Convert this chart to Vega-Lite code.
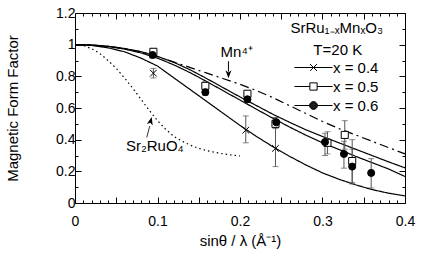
{
  "$schema": "https://vega.github.io/schema/vega-lite/v6.json",
  "autosize": {"type": "none"},
  "width": 330,
  "height": 190,
  "padding": {"left": 75, "top": 13, "right": 29, "bottom": 51},
  "background": "white",
  "config": {
    "view": {"stroke": null},
    "font": "Liberation Sans",
    "axis": {"grid": false, "domainColor": "black", "tickColor": "black", "labelColor": "black", "titleColor": "black", "labelFont": "Liberation Sans", "titleFont": "Liberation Sans", "titleFontWeight": "normal", "labelFontSize": 14, "titleFontSize": 15, "labelOverlap": false, "labelFlush": false}
  },
  "datasets": {
    "curves": [
      {"series": "fit 0.4", "s": 0, "f": 1}, {"series": "fit 0.4", "s": 0.02, "f": 0.995}, {"series": "fit 0.4", "s": 0.04, "f": 0.98}, {"series": "fit 0.4", "s": 0.06, "f": 0.955}, {"series": "fit 0.4", "s": 0.08, "f": 0.915}, {"series": "fit 0.4", "s": 0.10, "f": 0.865}, {"series": "fit 0.4", "s": 0.12, "f": 0.79}, {"series": "fit 0.4", "s": 0.14, "f": 0.715}, {"series": "fit 0.4", "s": 0.16, "f": 0.64}, {"series": "fit 0.4", "s": 0.18, "f": 0.565}, {"series": "fit 0.4", "s": 0.20, "f": 0.49}, {"series": "fit 0.4", "s": 0.22, "f": 0.42}, {"series": "fit 0.4", "s": 0.24, "f": 0.355}, {"series": "fit 0.4", "s": 0.26, "f": 0.295}, {"series": "fit 0.4", "s": 0.28, "f": 0.24}, {"series": "fit 0.4", "s": 0.30, "f": 0.19}, {"series": "fit 0.4", "s": 0.32, "f": 0.15}, {"series": "fit 0.4", "s": 0.34, "f": 0.115}, {"series": "fit 0.4", "s": 0.36, "f": 0.085}, {"series": "fit 0.4", "s": 0.38, "f": 0.062}, {"series": "fit 0.4", "s": 0.40, "f": 0.045},
      {"series": "fit 0.5", "s": 0, "f": 1}, {"series": "fit 0.5", "s": 0.02, "f": 0.998}, {"series": "fit 0.5", "s": 0.04, "f": 0.99}, {"series": "fit 0.5", "s": 0.06, "f": 0.976}, {"series": "fit 0.5", "s": 0.08, "f": 0.956}, {"series": "fit 0.5", "s": 0.10, "f": 0.926}, {"series": "fit 0.5", "s": 0.12, "f": 0.888}, {"series": "fit 0.5", "s": 0.14, "f": 0.84}, {"series": "fit 0.5", "s": 0.16, "f": 0.785}, {"series": "fit 0.5", "s": 0.18, "f": 0.727}, {"series": "fit 0.5", "s": 0.20, "f": 0.67}, {"series": "fit 0.5", "s": 0.22, "f": 0.615}, {"series": "fit 0.5", "s": 0.24, "f": 0.56}, {"series": "fit 0.5", "s": 0.26, "f": 0.51}, {"series": "fit 0.5", "s": 0.28, "f": 0.462}, {"series": "fit 0.5", "s": 0.30, "f": 0.42}, {"series": "fit 0.5", "s": 0.32, "f": 0.38}, {"series": "fit 0.5", "s": 0.34, "f": 0.34}, {"series": "fit 0.5", "s": 0.36, "f": 0.3}, {"series": "fit 0.5", "s": 0.38, "f": 0.26}, {"series": "fit 0.5", "s": 0.40, "f": 0.222},
      {"series": "fit 0.6", "s": 0, "f": 1}, {"series": "fit 0.6", "s": 0.02, "f": 0.997}, {"series": "fit 0.6", "s": 0.04, "f": 0.988}, {"series": "fit 0.6", "s": 0.06, "f": 0.972}, {"series": "fit 0.6", "s": 0.08, "f": 0.948}, {"series": "fit 0.6", "s": 0.10, "f": 0.915}, {"series": "fit 0.6", "s": 0.12, "f": 0.872}, {"series": "fit 0.6", "s": 0.14, "f": 0.822}, {"series": "fit 0.6", "s": 0.16, "f": 0.766}, {"series": "fit 0.6", "s": 0.18, "f": 0.708}, {"series": "fit 0.6", "s": 0.20, "f": 0.65}, {"series": "fit 0.6", "s": 0.22, "f": 0.592}, {"series": "fit 0.6", "s": 0.24, "f": 0.535}, {"series": "fit 0.6", "s": 0.26, "f": 0.48}, {"series": "fit 0.6", "s": 0.28, "f": 0.428}, {"series": "fit 0.6", "s": 0.30, "f": 0.38}, {"series": "fit 0.6", "s": 0.32, "f": 0.338}, {"series": "fit 0.6", "s": 0.34, "f": 0.295}, {"series": "fit 0.6", "s": 0.36, "f": 0.255}, {"series": "fit 0.6", "s": 0.38, "f": 0.215}, {"series": "fit 0.6", "s": 0.40, "f": 0.167},
      {"series": "Mn4+", "s": 0, "f": 1}, {"series": "Mn4+", "s": 0.02, "f": 0.998}, {"series": "Mn4+", "s": 0.04, "f": 0.99}, {"series": "Mn4+", "s": 0.06, "f": 0.975}, {"series": "Mn4+", "s": 0.08, "f": 0.955}, {"series": "Mn4+", "s": 0.10, "f": 0.925}, {"series": "Mn4+", "s": 0.12, "f": 0.89}, {"series": "Mn4+", "s": 0.14, "f": 0.855}, {"series": "Mn4+", "s": 0.16, "f": 0.82}, {"series": "Mn4+", "s": 0.18, "f": 0.785}, {"series": "Mn4+", "s": 0.20, "f": 0.75}, {"series": "Mn4+", "s": 0.22, "f": 0.71}, {"series": "Mn4+", "s": 0.24, "f": 0.665}, {"series": "Mn4+", "s": 0.26, "f": 0.615}, {"series": "Mn4+", "s": 0.28, "f": 0.565}, {"series": "Mn4+", "s": 0.30, "f": 0.515}, {"series": "Mn4+", "s": 0.32, "f": 0.47}, {"series": "Mn4+", "s": 0.34, "f": 0.43}, {"series": "Mn4+", "s": 0.36, "f": 0.39}, {"series": "Mn4+", "s": 0.38, "f": 0.35}, {"series": "Mn4+", "s": 0.40, "f": 0.31},
      {"series": "Sr2RuO4", "s": 0, "f": 1}, {"series": "Sr2RuO4", "s": 0.01, "f": 0.995}, {"series": "Sr2RuO4", "s": 0.02, "f": 0.975}, {"series": "Sr2RuO4", "s": 0.03, "f": 0.945}, {"series": "Sr2RuO4", "s": 0.04, "f": 0.9}, {"series": "Sr2RuO4", "s": 0.05, "f": 0.85}, {"series": "Sr2RuO4", "s": 0.06, "f": 0.79}, {"series": "Sr2RuO4", "s": 0.07, "f": 0.725}, {"series": "Sr2RuO4", "s": 0.08, "f": 0.655}, {"series": "Sr2RuO4", "s": 0.09, "f": 0.585}, {"series": "Sr2RuO4", "s": 0.10, "f": 0.52}, {"series": "Sr2RuO4", "s": 0.11, "f": 0.465}, {"series": "Sr2RuO4", "s": 0.12, "f": 0.42}, {"series": "Sr2RuO4", "s": 0.13, "f": 0.39}, {"series": "Sr2RuO4", "s": 0.14, "f": 0.365}, {"series": "Sr2RuO4", "s": 0.15, "f": 0.345}, {"series": "Sr2RuO4", "s": 0.16, "f": 0.33}, {"series": "Sr2RuO4", "s": 0.17, "f": 0.32}, {"series": "Sr2RuO4", "s": 0.18, "f": 0.31}, {"series": "Sr2RuO4", "s": 0.19, "f": 0.303}, {"series": "Sr2RuO4", "s": 0.20, "f": 0.297}
    ],
    "points": [
      {"series": "x = 0.4", "s": 0.095, "f": 0.82, "lo": 0.79, "hi": 0.85},
      {"series": "x = 0.4", "s": 0.207, "f": 0.46, "lo": 0.38, "hi": 0.55},
      {"series": "x = 0.4", "s": 0.243, "f": 0.345, "lo": 0.23, "hi": 0.54},
      {"series": "x = 0.5", "s": 0.095, "f": 0.955, "lo": 0.935, "hi": 0.975},
      {"series": "x = 0.5", "s": 0.158, "f": 0.74, "lo": 0.715, "hi": 0.765},
      {"series": "x = 0.5", "s": 0.209, "f": 0.69, "lo": 0.67, "hi": 0.71},
      {"series": "x = 0.5", "s": 0.243, "f": 0.5, "lo": 0.47, "hi": 0.53},
      {"series": "x = 0.5", "s": 0.306, "f": 0.38, "lo": 0.31, "hi": 0.45},
      {"series": "x = 0.5", "s": 0.327, "f": 0.43, "lo": 0.34, "hi": 0.52},
      {"series": "x = 0.5", "s": 0.336, "f": 0.265, "lo": 0.13, "hi": 0.4},
      {"series": "x = 0.6", "s": 0.094, "f": 0.935, "lo": 0.915, "hi": 0.955},
      {"series": "x = 0.6", "s": 0.158, "f": 0.7, "lo": 0.68, "hi": 0.72},
      {"series": "x = 0.6", "s": 0.209, "f": 0.655, "lo": 0.635, "hi": 0.675},
      {"series": "x = 0.6", "s": 0.244, "f": 0.51, "lo": 0.48, "hi": 0.54},
      {"series": "x = 0.6", "s": 0.303, "f": 0.385, "lo": 0.3, "hi": 0.44},
      {"series": "x = 0.6", "s": 0.326, "f": 0.31, "lo": 0.22, "hi": 0.39},
      {"series": "x = 0.6", "s": 0.336, "f": 0.23, "lo": 0.12, "hi": 0.34},
      {"series": "x = 0.6", "s": 0.359, "f": 0.19, "lo": 0.095, "hi": 0.28}
    ],
    "labels": [
      {"label": "Mn⁴⁺", "s": 0.196, "f": 0.922},
      {"label": "Sr₂RuO₄", "s": 0.0967, "f": 0.33},
      {"label": "SrRu₁₋ₓMnₓO₃", "s": 0.3173, "f": 1.074},
      {"label": "T=20 K", "s": 0.3185, "f": 0.935}
    ],
    "arrowMn": [{"s": 0.186, "f": 0.895, "s2": 0.186, "f2": 0.83, "hs": 0.186, "hf": 0.82}],
    "arrowSr": [{"s": 0.087, "f": 0.414, "s2": 0.0906, "f2": 0.486, "hs": 0.0915, "hf": 0.512}]
  },
  "layer": [
    {
      "data": {"name": "curves"},
      "mark": {"type": "line", "color": "black", "strokeWidth": 1.2},
      "encoding": {
        "x": {"field": "s", "type": "quantitative", "scale": {"domain": [0, 0.4], "nice": false, "zero": false},
          "axis": {"orient": "bottom", "title": "sinθ / λ (Å⁻¹)", "titlePadding": 2,
            "values": [0,0.01,0.02,0.03,0.04,0.05,0.06,0.07,0.08,0.09,0.1,0.11,0.12,0.13,0.14,0.15,0.16,0.17,0.18,0.19,0.2,0.21,0.22,0.23,0.24,0.25,0.26,0.27,0.28,0.29,0.3,0.31,0.32,0.33,0.34,0.35,0.36,0.37,0.38,0.39,0.4],
            "labelExpr": "abs(datum.value*10 - round(datum.value*10)) < 0.000001 ? format(datum.value, '~g') : ''",
            "tickSize": {"condition": {"test": "abs(datum.value*20 - round(datum.value*20)) < 0.000001", "value": -6}, "value": -3},
            "labelPadding": 17}},
        "y": {"field": "f", "type": "quantitative", "scale": {"domain": [0, 1.2], "nice": false, "zero": false},
          "axis": {"orient": "left", "title": "Magnetic Form Factor", "titlePadding": 35,
            "values": [0,0.1,0.2,0.3,0.4,0.5,0.6,0.7,0.8,0.9,1,1.1,1.2],
            "labelExpr": "abs(datum.value*5 - round(datum.value*5)) < 0.000001 ? format(datum.value, '~g') : ''",
            "tickSize": {"condition": {"test": "abs(datum.value*5 - round(datum.value*5)) < 0.000001", "value": -6}, "value": -3},
            "labelPadding": 6}},
        "strokeDash": {"field": "series", "type": "nominal", "legend": null,
          "scale": {"domain": ["fit 0.4", "fit 0.5", "fit 0.6", "Mn4+", "Sr2RuO4"], "range": [[1, 0], [1, 0], [1, 0], [9, 4, 2, 4], [1.5, 3]]}}
      }
    },
    {
      "data": {"name": "points"},
      "mark": {"type": "rule", "color": "#555", "strokeWidth": 1},
      "encoding": {
        "x": {"field": "s", "type": "quantitative", "axis": null},
        "y": {"field": "lo", "type": "quantitative", "axis": null},
        "y2": {"field": "hi"}
      }
    },
    {
      "data": {"name": "points"},
      "mark": {"type": "tick", "orient": "horizontal", "color": "#555", "size": 6, "thickness": 1},
      "encoding": {
        "x": {"field": "s", "type": "quantitative", "axis": null},
        "y": {"field": "lo", "type": "quantitative", "axis": null}
      }
    },
    {
      "data": {"name": "points"},
      "mark": {"type": "tick", "orient": "horizontal", "color": "#555", "size": 6, "thickness": 1},
      "encoding": {
        "x": {"field": "s", "type": "quantitative", "axis": null},
        "y": {"field": "hi", "type": "quantitative", "axis": null}
      }
    },
    {
      "data": {"name": "points"},
      "transform": [{"filter": "datum.series == 'x = 0.4'"}],
      "mark": {"type": "point", "shape": "M-1,-1L1,1M-1,1L1,-1", "filled": false, "stroke": "black", "strokeWidth": 1, "size": 45, "opacity": 1},
      "encoding": {
        "x": {"field": "s", "type": "quantitative", "axis": null},
        "y": {"field": "f", "type": "quantitative", "axis": null}
      }
    },
    {
      "data": {"name": "points"},
      "transform": [{"filter": "datum.series == 'x = 0.5'"}],
      "mark": {"type": "point", "shape": "square", "filled": true, "fill": "white", "stroke": "black", "strokeWidth": 1, "size": 50, "opacity": 1},
      "encoding": {
        "x": {"field": "s", "type": "quantitative", "axis": null},
        "y": {"field": "f", "type": "quantitative", "axis": null}
      }
    },
    {
      "data": {"name": "points"},
      "transform": [{"filter": "datum.series == 'x = 0.6'"}],
      "mark": {"type": "point", "shape": "circle", "filled": true, "fill": "black", "stroke": "black", "strokeWidth": 1, "size": 50, "opacity": 1},
      "encoding": {
        "x": {"field": "s", "type": "quantitative", "axis": null},
        "y": {"field": "f", "type": "quantitative", "axis": null}
      }
    },
    {
      "data": {"name": "labels"},
      "mark": {"type": "text", "font": "Liberation Sans", "fontSize": 15, "color": "black", "align": "center", "baseline": "alphabetic"},
      "encoding": {
        "x": {"field": "s", "type": "quantitative", "axis": null},
        "y": {"field": "f", "type": "quantitative", "axis": null},
        "text": {"field": "label"}
      }
    },
    {
      "data": {"name": "arrowMn"},
      "mark": {"type": "rule", "color": "black", "strokeWidth": 1},
      "encoding": {
        "x": {"field": "s", "type": "quantitative", "axis": null},
        "y": {"field": "f", "type": "quantitative", "axis": null},
        "x2": {"field": "s2"},
        "y2": {"field": "f2"}
      }
    },
    {
      "data": {"name": "arrowMn"},
      "mark": {"type": "point", "shape": "M0,1L-0.6,-0.6L0,-0.15L0.6,-0.6Z", "filled": true, "color": "black", "size": 100, "opacity": 1},
      "encoding": {
        "x": {"field": "hs", "type": "quantitative", "axis": null},
        "y": {"field": "hf", "type": "quantitative", "axis": null}
      }
    },
    {
      "data": {"name": "arrowSr"},
      "mark": {"type": "rule", "color": "#333", "strokeWidth": 1},
      "encoding": {
        "x": {"field": "s", "type": "quantitative", "axis": null},
        "y": {"field": "f", "type": "quantitative", "axis": null},
        "x2": {"field": "s2"},
        "y2": {"field": "f2"}
      }
    },
    {
      "data": {"name": "arrowSr"},
      "mark": {"type": "point", "shape": "M0,-1L-0.6,0.6L0,0.15L0.6,0.6Z", "filled": true, "color": "black", "size": 100, "angle": 14, "opacity": 1},
      "encoding": {
        "x": {"field": "hs", "type": "quantitative", "axis": null},
        "y": {"field": "hf", "type": "quantitative", "axis": null}
      }
    },
    {
      "data": {"name": "points"},
      "mark": {"type": "point", "opacity": 0, "filled": false, "stroke": "black", "strokeWidth": 1},
      "encoding": {
        "x": {"field": "s", "type": "quantitative",
          "axis": {"orient": "top", "title": null, "labels": false,
            "values": [0,0.01,0.02,0.03,0.04,0.05,0.06,0.07,0.08,0.09,0.1,0.11,0.12,0.13,0.14,0.15,0.16,0.17,0.18,0.19,0.2,0.21,0.22,0.23,0.24,0.25,0.26,0.27,0.28,0.29,0.3,0.31,0.32,0.33,0.34,0.35,0.36,0.37,0.38,0.39,0.4],
            "tickSize": {"condition": {"test": "abs(datum.value*20 - round(datum.value*20)) < 0.000001", "value": -6}, "value": -3}}},
        "y": {"field": "f", "type": "quantitative",
          "axis": {"orient": "right", "title": null, "labels": false,
            "values": [0,0.1,0.2,0.3,0.4,0.5,0.6,0.7,0.8,0.9,1,1.1,1.2],
            "tickSize": {"condition": {"test": "abs(datum.value*5 - round(datum.value*5)) < 0.000001", "value": -6}, "value": -3}}},
        "shape": {"field": "series", "type": "nominal", "title": null,
          "scale": {"domain": ["x = 0.4", "x = 0.5", "x = 0.6"], "range": [
            "M-2.2,0H2.2M-0.4,-0.4L0.4,0.4M-0.4,0.4L0.4,-0.4",
            "M-2.2,0H-0.42M0.42,0H2.2M-0.42,-0.42H0.42V0.42H-0.42Z",
            "M-2.2,0H-0.45M0.45,0H2.2M0.45,0A0.45,0.45 0 1,1 -0.45,0A0.45,0.45 0 1,1 0.45,0M0.39,0A0.39,0.39 0 1,1 -0.39,0A0.39,0.39 0 1,1 0.39,0M0.33,0A0.33,0.33 0 1,1 -0.33,0A0.33,0.33 0 1,1 0.33,0M0.27,0A0.27,0.27 0 1,1 -0.27,0A0.27,0.27 0 1,1 0.27,0M0.21,0A0.21,0.21 0 1,1 -0.21,0A0.21,0.21 0 1,1 0.21,0M0.15,0A0.15,0.15 0 1,1 -0.15,0A0.15,0.15 0 1,1 0.15,0M0.09,0A0.09,0.09 0 1,1 -0.09,0A0.09,0.09 0 1,1 0.09,0M0.04,0A0.04,0.04 0 1,1 -0.04,0A0.04,0.04 0 1,1 0.04,0"]},
          "legend": {"orient": "none", "legendX": 229, "legendY": 45, "padding": 0, "labelFontSize": 15, "labelFont": "Liberation Sans", "labelColor": "black", "symbolSize": 300, "symbolStrokeWidth": 1, "symbolStrokeColor": "black", "symbolOpacity": 1, "labelOffset": 10, "rowPadding": 1,
            "encode": {"symbols": {"update": {"stroke": {"value": "black"}, "strokeWidth": {"value": 1}, "opacity": {"value": 1}, "size": {"value": 300}}}}}}
      }
    }
  ],
  "resolve": {"axis": {"x": "independent", "y": "independent"}}
}
